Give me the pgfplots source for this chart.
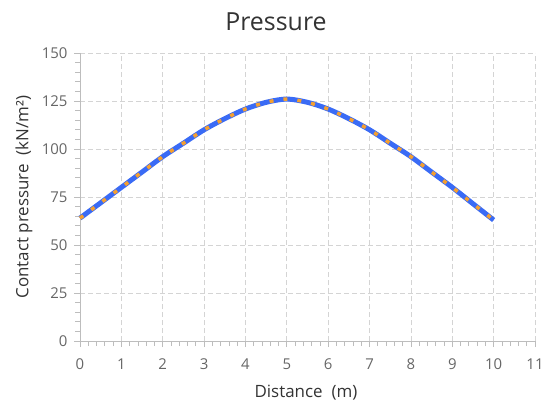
\documentclass[border=0pt]{standalone}
\usepackage{pgfplots}
\pgfplotsset{compat=1.18}
\usepackage{fontspec}
\setmainfont{Open Sans}
\definecolor{lineblue}{HTML}{3A6BF5}
\definecolor{dotorange}{HTML}{F5A030}
\definecolor{gridgray}{HTML}{D4D4D4}
\definecolor{axisgray}{HTML}{BDBDBD}
\definecolor{ticktext}{HTML}{666666}
\definecolor{labeltext}{HTML}{333333}
\begin{document}
\begin{tikzpicture}
\useasboundingbox (-80bp,-60bp) rectangle (468bp,341bp);
\begin{axis}[
  scale only axis,
  width=455bp, height=288bp,
  xmin=0, xmax=11, ymin=0, ymax=150,
  xtick={0,1,...,11}, ytick={0,25,...,150},
  minor x tick num=4, minor y tick num=4,
  axis lines=left,
  axis line style={axisgray, line width=0.8pt, -},
  tick style={axisgray, line width=0.8pt},
  tick align=outside,
  major tick length=6bp, minor tick length=5bp,
  grid=major,
  major grid style={gridgray, dashed, dash pattern=on 5bp off 3bp, line width=0.7pt},
  ticklabel style={font=\fontsize{15}{17}\selectfont, text=ticktext},
  /pgf/number format/assume math mode=true,
  xticklabel style={yshift=-8bp},
  yticklabel style={xshift=-3bp},
  clip=false,
]
\addplot[lineblue, line width=5bp, smooth] coordinates {
  (0,64) (0.5,72) (1,80) (1.5,88) (2,96) (2.5,103) (3,110) (3.5,115.8)
  (4,120.8) (4.5,124.3) (5,126) (5.5,124.3) (6,120.8) (6.5,115.8)
  (7,110) (7.5,103) (8,96) (8.5,88) (9,80) (9.5,71.5) (10,63)
};
\addplot[dotorange, line width=3.5bp, smooth, dash pattern=on 4bp off 10bp] coordinates {
  (0,64) (0.5,72) (1,80) (1.5,88) (2,96) (2.5,103) (3,110) (3.5,115.8)
  (4,120.8) (4.5,124.3) (5,126) (5.5,124.3) (6,120.8) (6.5,115.8)
  (7,110) (7.5,103) (8,96) (8.5,88) (9,80) (9.5,71.5) (10,63)
};
\end{axis}
\node[text=labeltext, font=\fontsize{25}{28}\selectfont] at (196bp,319bp) {Pressure};
\node[text=labeltext, font=\fontsize{17}{20}\selectfont] at (226bp,-52bp) {Distance\hspace{9bp}(m)};
\node[text=labeltext, font=\fontsize{17}{20}\selectfont, rotate=90] at (-56bp,144bp) {Contact pressure\hspace{9bp}(kN/m²)};
\end{tikzpicture}
\end{document}
